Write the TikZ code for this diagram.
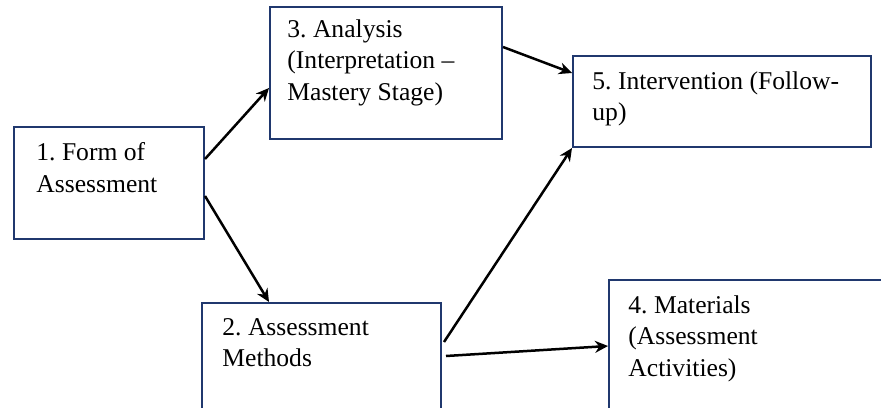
\documentclass[tikz,border=0pt]{standalone}
\usepackage{fontspec}
\setmainfont{Liberation Serif}
\usepackage{tikz}
\usetikzlibrary{calc,arrows.meta}
\definecolor{boxblue}{RGB}{32,56,110}
\frenchspacing

\begin{document}
\begin{tikzpicture}[x=0.5pt, y=-0.5pt,
  box/.style={draw=boxblue, line width=1pt, anchor=north west, inner sep=0pt},
  txt/.style={anchor=north west, align=left, inner sep=0pt,
              font=\fontsize{12.8pt}{15.8pt}\selectfont},
  arr/.style={-{Stealth[length=6.5pt, width=6pt]}, line width=1.25pt, black}]
\clip (0,0) rectangle (881,407);
% boxes
\node[box, minimum width=95pt, minimum height=56pt] (form) at (13,126) {};
\node[box, minimum width=116pt, minimum height=66pt] (analysis) at (269,6) {};
\node[box, minimum width=149pt, minimum height=45.5pt] (interv) at (572,55) {};
\node[box, minimum width=119.5pt, minimum height=70pt] (methods) at (201,302) {};
\node[box, minimum width=160pt, minimum height=80pt] (materials) at (608,279) {};
% labels
\node[txt] (formtxt) at ([shift={(11.5pt,-8pt)}]form.north west) {1. Form of\\Assessment};
\node[txt] (analysistxt) at ([shift={(9pt,-6.5pt)}]analysis.north west) {3. Analysis\\(Interpretation --\\Mastery Stage)};
\node[txt] (intervtxt) at ([shift={(10pt,-8pt)}]interv.north west) {5. Intervention (Follow-\\up)};
\node[txt] (methodstxt) at ([shift={(10.5pt,-8pt)}]methods.north west) {2. Assessment\\Methods};
\node[txt] (materialstxt) at ([shift={(10pt,-8pt)}]materials.north west) {4. Materials\\(Assessment\\Activities)};
% connectors
\draw[arr] ($(form.north east)+(0,33)$) -- ($(analysis.north west)+(0,82)$);
\draw[arr] ($(form.north east)+(0,70)$) -- ($(methods.north west)+(68,0)$);
\draw[arr] ($(analysis.north east)+(0,41)$) -- ($(interv.north west)+(0,18)$);
\draw[arr] ($(methods.north east)+(2,40)$) -- (interv.south west);
\draw[arr] ($(methods.north east)+(4,54)$) -- ($(materials.north west)+(0,67)$);
\end{tikzpicture}
\end{document}
